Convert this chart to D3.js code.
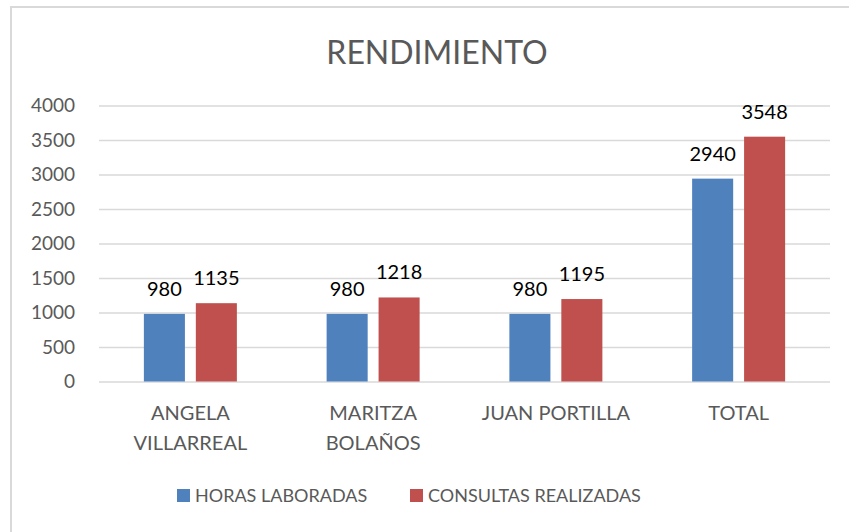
<!DOCTYPE html>
<html>
<head>
<meta charset="utf-8">
<script src="https://cdnjs.cloudflare.com/ajax/libs/d3/7.8.5/d3.min.js"></script>
<style>
  body { margin: 0; background: #fff; }
  svg { display: block; }
</style>
</head>
<body>
<div id="chart"></div>
<script>
const categories = [['ANGELA', 'VILLARREAL'], ['MARITZA', 'BOLAÑOS'], ['JUAN PORTILLA'], ['TOTAL']];
const seriesNames = ['HORAS LABORADAS', 'CONSULTAS REALIZADAS'];
const horasLaboradas = [980, 980, 980, 2940];
const consultasRealizadas = [1135, 1218, 1195, 3548];
const yTicks = [0, 500, 1000, 1500, 2000, 2500, 3000, 3500, 4000];
const colors = ['#4f81bd', '#c0504d'];

const width = 849, height = 532;
const fontFamily = 'Lato, "Open Sans", sans-serif';
const grey = '#595959';

const svg = d3.select('#chart').append('svg')
  .attr('width', width)
  .attr('height', height);

// chart area border (runs off the right and bottom of the picture)
svg.append('rect')
  .attr('x', 11)
  .attr('y', 7)
  .attr('width', width + 20)
  .attr('height', height + 20)
  .attr('fill', '#fff')
  .attr('stroke', '#d9d9d9')
  .attr('stroke-width', 2);

const plotLeft = 99, plotRight = 830, plotTop = 105.5, plotBottom = 381.5;

svg.append('text')
  .attr('x', 437)
  .attr('y', 64)
  .attr('text-anchor', 'middle')
  .attr('font-family', fontFamily)
  .attr('font-size', '32px')
  .attr('fill', grey)
  .text('RENDIMIENTO');

const x0 = d3.scaleBand()
  .domain(d3.range(categories.length))
  .range([plotLeft, plotRight]);

const x1 = d3.scaleBand()
  .domain(d3.range(seriesNames.length))
  .range([0, 93])
  .paddingInner(0.21);

const y = d3.scaleLinear()
  .domain([0, 4000])
  .range([plotBottom, plotTop]);

// gridlines + y labels
const yAxis = svg.append('g')
  .attr('transform', `translate(${plotLeft},0)`)
  .call(d3.axisLeft(y)
    .tickValues(yTicks)
    .tickFormat(d3.format('d'))
    .tickSize(-(plotRight - plotLeft))
    .tickPadding(24));
yAxis.select('.domain').remove();
yAxis.selectAll('.tick line').attr('stroke', '#d9d9d9').attr('stroke-width', 1.5);
yAxis.selectAll('.tick text')
  .attr('font-family', fontFamily)
  .attr('font-size', '19px')
  .attr('fill', grey);

const series = [horasLaboradas, consultasRealizadas];

series.forEach((values, s) => {
  const g = svg.append('g');
  g.selectAll('rect')
    .data(values)
    .enter()
    .append('rect')
    .attr('x', (d, i) => x0(i) + (x0.bandwidth() - 93) / 2 + x1(s))
    .attr('y', d => y(d))
    .attr('width', x1.bandwidth())
    .attr('height', d => y(0) - y(d))
    .attr('fill', colors[s]);

  g.selectAll('text')
    .data(values)
    .enter()
    .append('text')
    .attr('x', (d, i) => x0(i) + (x0.bandwidth() - 93) / 2 + x1(s) + x1.bandwidth() / 2)
    .attr('y', d => y(d) - 18)
    .attr('text-anchor', 'middle')
    .attr('font-family', fontFamily)
    .attr('font-size', '20px')
    .attr('fill', '#000')
    .text(d => d);
});

// category labels
categories.forEach((lines, i) => {
  const t = svg.append('text')
    .attr('text-anchor', 'middle')
    .attr('font-family', fontFamily)
    .attr('font-size', '20px')
    .attr('fill', grey);
  lines.forEach((line, j) => {
    t.append('tspan')
      .attr('x', x0(i) + x0.bandwidth() / 2)
      .attr('y', 420 + j * 30)
      .text(line);
  });
});

// legend
const legendX = [177, 410];
seriesNames.forEach((name, s) => {
  svg.append('rect')
    .attr('x', legendX[s])
    .attr('y', 489)
    .attr('width', 13)
    .attr('height', 13)
    .attr('fill', colors[s]);
  svg.append('text')
    .attr('x', legendX[s] + 18)
    .attr('y', 502)
    .attr('font-family', fontFamily)
    .attr('font-size', '18px')
    .attr('fill', grey)
    .text(name);
});
</script>
</body>
</html>
